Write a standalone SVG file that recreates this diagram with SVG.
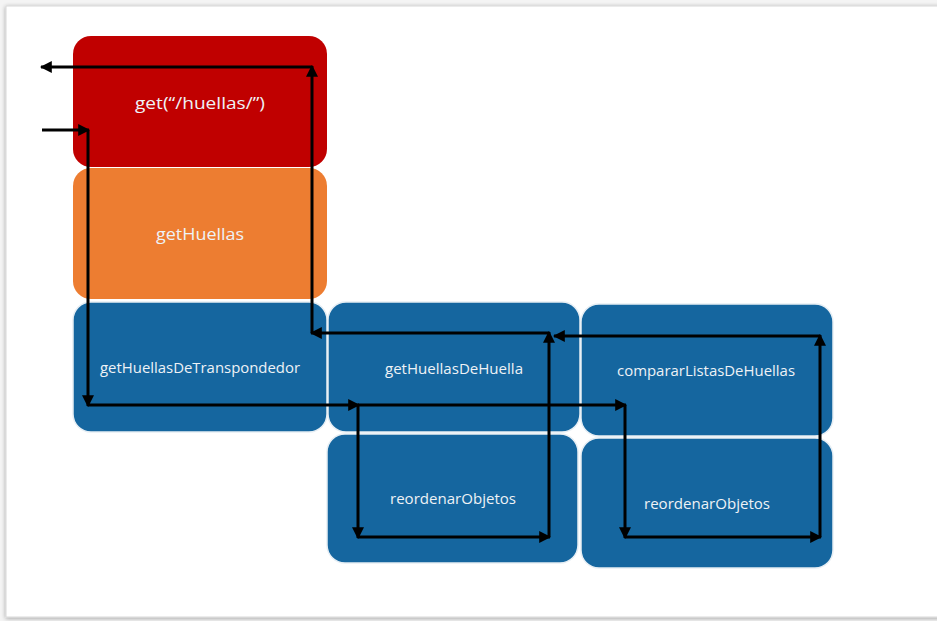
<svg xmlns="http://www.w3.org/2000/svg" width="937" height="621" viewBox="0 0 937 621">
<defs>
<marker id="ah" viewBox="0 0 10 10" refX="9" refY="5" markerWidth="4" markerHeight="4" orient="auto" markerUnits="strokeWidth"><path d="M0,0 L10,5 L0,10 z" fill="#000"/></marker>
<filter id="sh" x="-5%" y="-5%" width="110%" height="110%"><feGaussianBlur in="SourceAlpha" stdDeviation="2"/><feOffset dx="0" dy="1"/><feComponentTransfer><feFuncA type="linear" slope="0.35"/></feComponentTransfer><feMerge><feMergeNode/><feMergeNode in="SourceGraphic"/></feMerge></filter>
</defs>
<style>
.lbl{font-family:"Open Sans","Liberation Sans",sans-serif;fill:#EEF2F6;text-anchor:middle;dominant-baseline:central}
.blue{fill:#15669F;stroke:#E6EEF4;stroke-width:1.5}
.c{fill:none;stroke:#000;stroke-width:3;marker-end:url(#ah)}
</style>
<rect x="0" y="0" width="937" height="621" fill="#F4F4F4"/>
<rect x="6" y="6" width="940" height="611" fill="#FFFFFF" stroke="#D8D8D8" stroke-width="1" filter="url(#sh)"/>
<g id="n-get">
<rect x="73" y="36" width="254" height="131" rx="18" fill="#C00000"/>
<text class="lbl" x="200" y="102" font-size="17" textLength="130" lengthAdjust="spacingAndGlyphs">get(“/huellas/”)</text>
</g>
<g id="n-getHuellas">
<rect x="73" y="168" width="254" height="131" rx="18" fill="#ED7D31"/>
<text class="lbl" x="200" y="234" font-size="16" textLength="88" lengthAdjust="spacingAndGlyphs">getHuellas</text>
</g>
<g id="n-transpondedor">
<rect class="blue" x="73" y="302" width="254" height="130" rx="18"/>
<text class="lbl" x="200" y="367" font-size="14" textLength="200" lengthAdjust="spacingAndGlyphs">getHuellasDeTranspondedor</text>
</g>
<g id="n-deHuella">
<rect class="blue" x="328" y="302" width="252" height="130" rx="18"/>
<text class="lbl" x="454" y="368" font-size="14" textLength="138" lengthAdjust="spacingAndGlyphs">getHuellasDeHuella</text>
</g>
<g id="n-comparar">
<rect class="blue" x="581" y="304" width="252" height="132" rx="18"/>
<text class="lbl" x="706" y="370" font-size="14" textLength="178" lengthAdjust="spacingAndGlyphs">compararListasDeHuellas</text>
</g>
<g id="n-reordenar1">
<rect class="blue" x="327" y="434" width="251" height="129" rx="18"/>
<text class="lbl" x="453" y="498" font-size="14" textLength="126" lengthAdjust="spacingAndGlyphs">reordenarObjetos</text>
</g>
<g id="n-reordenar2">
<rect class="blue" x="581" y="438" width="252" height="130" rx="18"/>
<text class="lbl" x="707" y="503" font-size="14" textLength="126" lengthAdjust="spacingAndGlyphs">reordenarObjetos</text>
</g>
<g id="connectors">
<path class="c" d="M42,130 H89"/>
<path class="c" d="M88,130 V406"/>
<path class="c" d="M88,405 H359"/>
<path class="c" d="M358,405 V538"/>
<path class="c" d="M358,537 H550"/>
<path class="c" d="M549,537 V332"/>
<path class="c" d="M549,333 H311"/>
<path class="c" d="M312,333 V66"/>
<path class="c" d="M312,67 H41"/>
<path class="c" d="M358,405 H626"/>
<path class="c" d="M625,405 V538"/>
<path class="c" d="M625,537 H821"/>
<path class="c" d="M820,537 V335"/>
<path class="c" d="M820,336 H554"/>
</g>
</svg>
